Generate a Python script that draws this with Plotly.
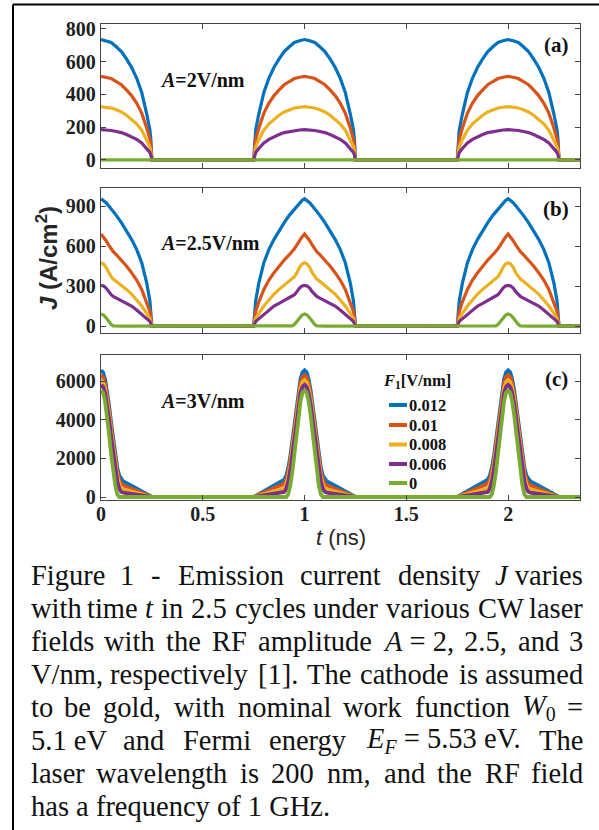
import plotly.graph_objects as go

W, H = 599, 830

# ---------------- data ----------------
t_centres = [0.0, 1.0, 2.0]          # ns, pulse centres (one per RF cycle)
t_max = 2.353                         # ns, right end of the time axis
series_labels = ['0.012', '0.01', '0.008', '0.006', '0']
colors = ['#0072BD', '#D95319', '#EDB120', '#7E2F8E', '#77AC30']

# panel (a) A = 2 V/nm : half pulse, edge -> peak (offset from pulse centre, ns)
a_offsets = [-0.25, -0.245, -0.24, -0.225, -0.2, -0.175, -0.15, -0.125, -0.1, -0.075, -0.05, -0.025, 0.0]
a_blue    = [0, 125, 184, 279, 412, 500, 566, 617, 662, 691, 717, 728, 735]
a_orange  = [0, 87, 128, 194, 286, 347, 393, 428, 459, 479, 497, 505, 510]
a_yellow  = [0, 55, 81, 124, 182, 221, 250, 273, 293, 306, 317, 322, 325]
a_purple  = [0, 31, 46, 70, 104, 126, 142, 155, 167, 174, 180, 183, 185]
a_green   = [0, 0, 0, 0, 0, 0, 0, 0, 0, 0, 0, 0, 0]

# panel (b) A = 2.5 V/nm
b_offsets = [-0.25, -0.24, -0.225, -0.2, -0.175, -0.15, -0.125, -0.1, -0.075, -0.06, -0.05, -0.0375, -0.025, -0.0125, 0.0]
b_blue    = [0, 190, 320, 475, 575, 650, 715, 775, 830, 858, 880, 902, 925, 942, 955]
b_orange  = [0, 110, 180, 275, 345, 400, 450, 495, 535, 558, 580, 608, 640, 668, 690]
b_yellow  = [0, 60, 95, 150, 195, 240, 275, 305, 335, 352, 370, 400, 440, 465, 475]
b_purple  = [0, 35, 55, 90, 120, 150, 170, 190, 210, 222, 235, 258, 285, 300, 305]
b_green   = [0, 0, 0, 0, 0, 0, 0, 0, 0, 2, 12, 35, 62, 82, 90]

# panel (c) A = 3 V/nm
c_offsets = [-0.25, -0.2, -0.15, -0.11, -0.1, -0.09, -0.08, -0.07, -0.06, -0.05, -0.04, -0.03, -0.02, -0.01, 0.0]
c_blue    = [0, 300, 580, 800, 900, 1100, 1500, 2100, 2900, 3800, 4700, 5500, 6100, 6450, 6550]
c_orange  = [0, 220, 420, 600, 680, 880, 1280, 1880, 2680, 3580, 4480, 5280, 5880, 6200, 6300]
c_yellow  = [0, 140, 280, 400, 450, 650, 1050, 1650, 2450, 3350, 4250, 5050, 5620, 5950, 6050]
c_purple  = [0, 80, 160, 230, 260, 420, 800, 1400, 2200, 3100, 4000, 4800, 5380, 5700, 5800]
c_green   = [0, 0, 0, 0, 0, 0, 150, 600, 1300, 2200, 3200, 4200, 4950, 5400, 5500]

x_ticks = [0, 0.5, 1, 1.5, 2]
x_ticktext = ['0', '0.5', '1', '1.5', '2']
a_yticks = [0, 200, 400, 600, 800]
b_yticks = [0, 300, 600, 900]
c_yticks = [0, 2000, 4000, 6000]
a_yrange = [-49, 830]
b_yrange = [-52, 1035]
c_yrange = [-155, 7345]

panel_labels = ['(a)', '(b)', '(c)']
amp_labels = ['<i>A</i>=2V/nm', '<i>A</i>=2.5V/nm', '<i>A</i>=3V/nm']
legend_title = '<i>F</i><sub>1</sub>[V/nm]'


def assemble(offsets_half, values_half):
    offs = offsets_half + [-o for o in reversed(offsets_half[:-1])]
    vals = values_half + list(reversed(values_half[:-1]))
    ts, js = [], []
    for c in t_centres:
        for o, v in zip(offs, vals):
            t = round(c + o, 6)
            if 0 <= t <= t_max:
                ts.append(t)
                js.append(v)
    ts.append(t_max)
    js.append(vals[-1])
    return ts, js


# ---------------- layout geometry (pixels) ----------------
def px(x):
    return x / W


def py(y):
    return 1 - y / H


plot_l, plot_r = 101, 580
panels_px = [(24, 168), (188, 333), (355, 500)]

fig = go.Figure()

panel_data = [
    (a_offsets, [a_blue, a_orange, a_yellow, a_purple, a_green]),
    (b_offsets, [b_blue, b_orange, b_yellow, b_purple, b_green]),
    (c_offsets, [c_blue, c_orange, c_yellow, c_purple, c_green]),
]

for p, (offs, sers) in enumerate(panel_data):
    xa = 'x' if p == 0 else f'x{p + 1}'
    ya = 'y' if p == 0 else f'y{p + 1}'
    for k, vals in enumerate(sers):
        ts, js = assemble(offs, vals)
        fig.add_trace(go.Scatter(
            x=ts, y=js, mode='lines', xaxis=xa, yaxis=ya,
            line=dict(color=colors[k], width=3.2 if p < 2 else 3.8),
            name=series_labels[k], showlegend=False, hoverinfo='skip'))

FRAME = '#444444'
TICKFONT = dict(family='Liberation Serif', size=20, color='#1f1f1f', weight='bold')


def xaxis_cfg(p):
    return dict(domain=[px(plot_l), px(plot_r)], range=[0, t_max],
                anchor='y' if p == 0 else f'y{p + 1}',
                tickvals=x_ticks, ticktext=x_ticktext, showticklabels=(p == 2),
                ticklabelstandoff=-4,
                showline=True, linecolor=FRAME, linewidth=1.3, mirror='ticks',
                ticks='inside', ticklen=5, tickwidth=1.3, tickcolor=FRAME,
                showgrid=False, zeroline=False, tickfont=TICKFONT, automargin=False)


def yaxis_cfg(p, rng, tv):
    return dict(domain=[py(panels_px[p][1]), py(panels_px[p][0])], range=rng,
                anchor='x' if p == 0 else f'x{p + 1}',
                tickvals=tv, showline=True, linecolor=FRAME, linewidth=1.3, mirror='ticks',
                ticks='inside', ticklen=5, tickwidth=1.3, tickcolor=FRAME,
                showgrid=False, zeroline=False, tickfont=TICKFONT, automargin=False)


annotations = []
shapes = []
for p in range(3):
    annotations.append(dict(text=panel_labels[p], x=px(556), y=py([45, 209, 379][p]),
                            xref='paper', yref='paper', showarrow=False,
                            xanchor='center', yanchor='middle',
                            font=dict(family='Liberation Serif', size=21, color='#111', weight='bold')))
    annotations.append(dict(text=amp_labels[p], x=px(158), y=py([80, 243, 401][p]),
                            xref='paper', yref='paper', showarrow=False,
                            xanchor='left', yanchor='middle',
                            font=dict(family='Liberation Serif', size=20, color='#111', weight='bold')))

# legend of panel (c): title, short line samples and labels
LEGFONT = dict(family='Liberation Serif', size=16.5, color='#111', weight='bold')
annotations.append(dict(text=legend_title, x=px(381), y=py(381), xref='paper', yref='paper',
                        showarrow=False, xanchor='left', yanchor='middle', font=LEGFONT))
leg_y = [405, 425, 444.5, 464, 483]
for k, lab in enumerate(series_labels):
    shapes.append(dict(type='line', xref='paper', yref='paper', x0=px(389), x1=px(407),
                       y0=py(leg_y[k]), y1=py(leg_y[k]), line=dict(color=colors[k], width=4)))
    annotations.append(dict(text=lab, x=px(407.5), y=py(leg_y[k]), xref='paper', yref='paper',
                            showarrow=False, xanchor='left', yanchor='middle', font=LEGFONT))

# axis titles
annotations.append(dict(text='<i>J</i> (A/cm<sup>2</sup>)', x=px(47), y=py(258), textangle=-90,
                        xref='paper', yref='paper', showarrow=False, xanchor='center', yanchor='middle',
                        font=dict(family='Liberation Sans', size=24, color='#262626', weight='bold')))
annotations.append(dict(text='<i>t</i> (ns)', x=px(341), y=py(537),
                        xref='paper', yref='paper', showarrow=False, xanchor='center', yanchor='middle',
                        font=dict(family='Liberation Sans', size=22, color='#262626')))

# ---------------- caption (justified lines) ----------------
REG = {' ': 250, 'a': 444, 'b': 500, 'c': 444, 'd': 500, 'e': 444, 'f': 333, 'g': 500, 'h': 500,
       'i': 278, 'j': 278, 'k': 500, 'l': 278, 'm': 778, 'n': 500, 'o': 500, 'p': 500, 'q': 500,
       'r': 333, 's': 389, 't': 278, 'u': 500, 'v': 500, 'w': 722, 'x': 500, 'y': 500, 'z': 444,
       'A': 722, 'B': 667, 'C': 667, 'D': 722, 'E': 611, 'F': 556, 'G': 722, 'H': 722, 'I': 333,
       'J': 389, 'K': 722, 'L': 611, 'M': 889, 'N': 722, 'O': 722, 'P': 556, 'Q': 722, 'R': 667,
       'S': 556, 'T': 611, 'U': 722, 'V': 722, 'W': 944, 'X': 722, 'Y': 722, 'Z': 611,
       '.': 250, ',': 250, '-': 333, '/': 278, '[': 333, ']': 333, '=': 564, '(': 333, ')': 333}
for d in '0123456789':
    REG[d] = 500
ITA = {'J': 444, 't': 278, 'A': 611, 'W': 833, 'E': 611, 'F': 611}

CAP_SIZE = 28.5
cap_left, cap_right = 29, 585
cap_base0, cap_step = 575, 33


def seg_w(text, style):
    scale = 0.7 if style.startswith('sub') else 1.0
    tab = ITA if style.endswith('i') else REG
    return sum(tab.get(ch, REG.get(ch, 500)) for ch in text) * scale * CAP_SIZE / 1000


def seg_html(text, style):
    if style == 'i':
        return f'<i>{text}</i>'
    if style == 'sub_r':
        return f'<sub>{text}</sub>'
    if style == 'sub_i':
        return f'<sub><i>{text}</i></sub>'
    return text


def U(*segs):
    return list(segs)


def R(s):
    return [(s, 'r')]


caption_lines = [
    [R('Figure'), R('1'), R('-'), R('Emission'), R('current'), R('density'), U(('J', 'i'), (' varies', 'r'))],
    [R('with'), R('time'), U(('t', 'i')), R('in'), R('2.5'), R('cycles'), R('under'), R('various'), R('CW'), R('laser')],
    [R('fields'), R('with'), R('the'), R('RF'), R('amplitude'), U(('A', 'i'), (' = 2,', 'r')), R('2.5,'), R('and'), R('3')],
    [R('V/nm,'), R('respectively'), R('[1].'), R('The'), R('cathode'), R('is'), R('assumed')],
    [R('to'), R('be'), R('gold,'), R('with'), R('nominal'), R('work'), R('function'), U(('W', 'i'), ('0', 'sub_r')), R('=')],
    [R('5.1 eV'), R('and'), R('Fermi'), R('energy'), U(('E', 'i'), ('F', 'sub_i'), (' = 5.53 eV.', 'r')), R('The')],
    [R('laser'), R('wavelength'), R('is'), R('200'), R('nm,'), R('and'), R('the'), R('RF'), R('field')],
]
last_line = 'has a frequency of 1 GHz.'

CAP_FONT = dict(family='Liberation Serif', size=CAP_SIZE, color='#111111')
for li, words in enumerate(caption_lines):
    yc = cap_base0 + li * cap_step
    widths = [sum(seg_w(t, s) for t, s in w) for w in words]
    n = len(words)
    gap = (cap_right - cap_left - sum(widths)) / (n - 1)
    xcur = cap_left
    for k, (w, wd) in enumerate(zip(words, widths)):
        html = ''.join(seg_html(t, s) for t, s in w)
        if k == 0:
            xa, anchor = xcur, 'left'
        elif k == n - 1:
            xa, anchor = cap_right, 'right'
        else:
            xa, anchor = xcur + wd / 2, 'center'
        annotations.append(dict(text=html, x=px(xa), y=py(yc), xref='paper', yref='paper',
                                showarrow=False, xanchor=anchor, yanchor='middle', font=CAP_FONT))
        xcur += wd + gap

annotations.append(dict(text=last_line, x=px(cap_left), y=py(cap_base0 + 7 * cap_step),
                        xref='paper', yref='paper', showarrow=False, xanchor='left', yanchor='middle',
                        font=CAP_FONT))

shapes += [
    dict(type='line', xref='paper', yref='paper', x0=px(13), y0=py(4.5), x1=1, y1=py(4.5),
         line=dict(color='#000', width=2)),
    dict(type='line', xref='paper', yref='paper', x0=px(13), y0=py(4.5), x1=px(13), y1=0,
         line=dict(color='#000', width=2)),
]

fig.update_layout(
    width=W, height=H, margin=dict(l=0, r=0, t=0, b=0),
    paper_bgcolor='white', plot_bgcolor='white', template='none',
    xaxis=xaxis_cfg(0), xaxis2=xaxis_cfg(1), xaxis3=xaxis_cfg(2),
    yaxis=yaxis_cfg(0, a_yrange, a_yticks), yaxis2=yaxis_cfg(1, b_yrange, b_yticks),
    yaxis3=yaxis_cfg(2, c_yrange, c_yticks),
    annotations=annotations, shapes=shapes,
    showlegend=False,
)

fig.write_html('out.html', config={'displayModeBar': False},
               post_script="document.body.style.margin='0';document.body.style.padding='0';document.body.style.overflow='hidden';")
